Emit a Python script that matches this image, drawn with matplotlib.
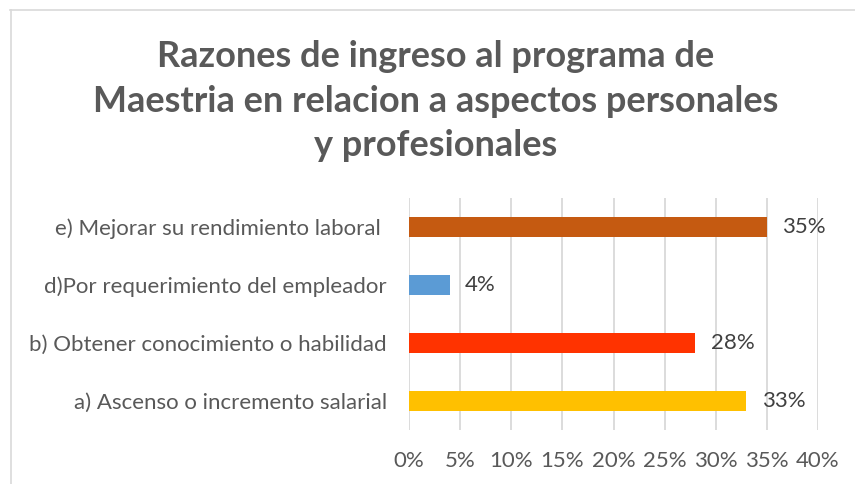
import matplotlib
matplotlib.use("Agg")
import matplotlib.pyplot as plt
from matplotlib.lines import Line2D

categories = ["a) Ascenso o incremento salarial",
              "b) Obtener conocimiento o habilidad",
              "d)Por requerimiento del empleador",
              "e) Mejorar su rendimiento laboral "]
values = [33, 28, 4, 35]
colors = ["#FFC000", "#FF3300", "#5B9BD5", "#C55A11"]
xticks = [0, 5, 10, 15, 20, 25, 30, 35, 40]
title = "Razones de ingreso al programa de\nMaestria en relacion a aspectos personales\ny profesionales"

plt.rcParams['font.family'] = ['Lato', 'DejaVu Sans']
gray = "#595959"

fig = plt.figure(figsize=(8.55, 4.84), dpi=100)
W, H = 855, 484
ax = fig.add_axes([409 / W, 1 - 430 / H, (818 - 409) / W, (430 - 198) / H])

y = list(range(len(categories)))
ax.barh(y, values, height=0.36, color=colors, zorder=3)
for yi, v in zip(y, values):
    ax.text(v + 1.5, yi, f"{v}%", va="center", ha="left", fontsize=16, color="#404040")

ax.set_xlim(0, 40)
ax.set_ylim(-0.5, len(categories) - 0.5)
ax.set_xticks(xticks)
ax.set_xticklabels([f"{t}%" for t in xticks], fontsize=16, color=gray)
ax.set_yticks(y)
ax.set_yticklabels(categories, fontsize=16, color=gray)
ax.tick_params(axis='both', length=0)
ax.tick_params(axis='x', pad=15)
ax.tick_params(axis='y', pad=16)
ax.grid(axis='x', color="#D9D9D9", linewidth=1.3, zorder=0)
for s in ax.spines.values():
    s.set_visible(False)

fig.text(436 / W, 1 - 101 / H, title, ha="center", va="center", fontsize=26,
         fontweight="bold", color=gray, linespacing=1.42)

# chart border (top and left)
fig.add_artist(Line2D([10 / W, 1], [1 - 9.5 / H, 1 - 9.5 / H], color="#D9D9D9", lw=1.2, transform=fig.transFigure))
fig.add_artist(Line2D([10.5 / W, 10.5 / W], [0, 1 - 9.5 / H], color="#D9D9D9", lw=1.2, transform=fig.transFigure))

fig.savefig("out.png", dpi=100)
